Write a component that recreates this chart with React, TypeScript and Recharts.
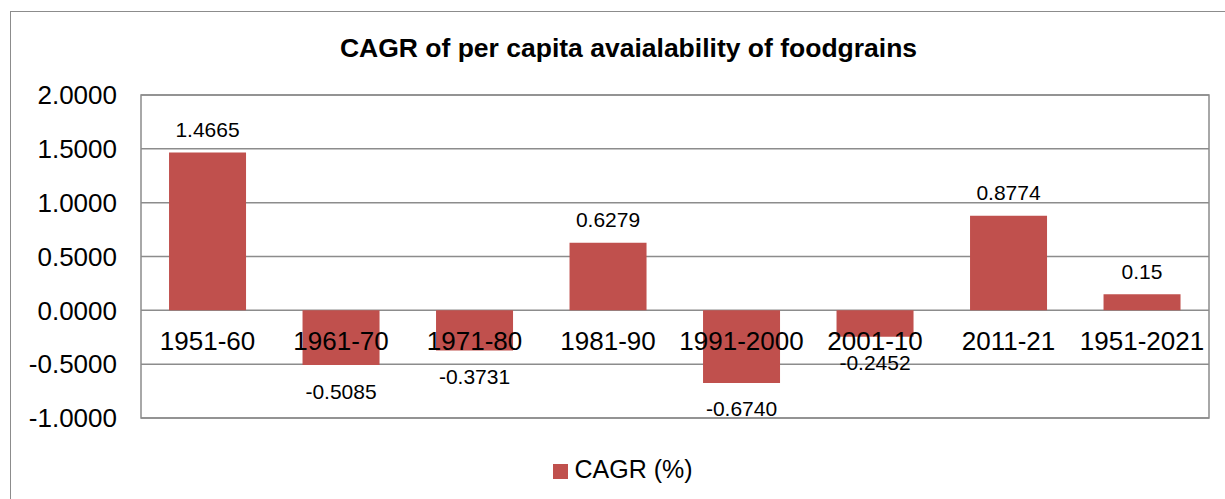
import React from 'react'
import {
  BarChart, Bar, XAxis, YAxis, CartesianGrid, ReferenceArea, LabelList, Legend
} from 'recharts'

// periods on the x axis
const periods = ['1951-60', '1961-70', '1971-80', '1981-90', '1991-2000', '2001-10', '2011-21', '1951-2021']
// CAGR (%) for each period
const cagr = [1.4665, -0.5085, -0.3731, 0.6279, -0.674, -0.2452, 0.8774, 0.15]
// labels exactly as printed on the bars
const valueText = ['1.4665', '-0.5085', '-0.3731', '0.6279', '-0.6740', '-0.2452', '0.8774', '0.15']
const yTicks = [-1, -0.5, 0, 0.5, 1, 1.5, 2]

const BAR = '#C0504D'
const GRID = '#8c8c8c'
const FONT = '"Liberation Sans", Arial, sans-serif'

const chartData = periods.map((p, i) => ({ name: p, value: cagr[i], label: valueText[i] }))

const ValueLabel = (props: any) => {
  const { x, y, width, height, index } = props
  const top = Math.min(y, y + height)
  const bottom = Math.max(y, y + height)
  const pos = cagr[index] >= 0
  return (
    <text
      x={x + width / 2}
      y={pos ? top - 23 : bottom + 26}
      textAnchor="middle"
      dominantBaseline="central"
      fontSize={21}
      fill="#000"
      fontFamily={FONT}
    >
      {valueText[index]}
    </text>
  )
}

// period names sit just under the zero line, not at the bottom of the plot
const CategoryLabel = (props: any) => {
  const { x, y, width, height, index } = props
  const top = Math.min(y, y + height)
  const bottom = Math.max(y, y + height)
  const zero = cagr[index] >= 0 ? bottom : top
  return (
    <text
      x={x + width / 2}
      y={zero + 31}
      textAnchor="middle"
      dominantBaseline="central"
      fontSize={26}
      fill="#000"
      fontFamily={FONT}
    >
      {periods[index]}
    </text>
  )
}

export default function App() {
  return (
    <div style={{ position: 'fixed', left: 0, top: 0, width: 1225, height: 499, overflow: 'hidden', background: '#fff', fontFamily: FONT }}>
      <div style={{ position: 'absolute', left: 10, top: 11, width: 1240, height: 520, border: '1px solid ' + GRID }} />
      <div style={{ position: 'absolute', left: 10, top: 33, width: 1237, textAlign: 'center', fontSize: 26.5, fontWeight: 'bold', color: '#000' }}>
        CAGR of per capita avaialability of foodgrains
      </div>
      <div style={{ position: 'absolute', left: 0, top: 0 }}>
        <BarChart
          width={1225}
          height={499}
          data={chartData}
          margin={{ top: 95, right: 16, bottom: 81, left: 0 }}
          barCategoryGap="21%"
        >
          <CartesianGrid vertical={false} stroke={GRID} strokeWidth={1.5} />
          <XAxis dataKey="name" hide />
          <YAxis
            type="number"
            domain={[-1, 2]}
            ticks={yTicks}
            tickFormatter={(v: number) => v.toFixed(4)}
            width={141}
            axisLine={false}
            tickLine={false}
            tickSize={6}
            tickMargin={18}
            tick={{ fontSize: 26, fill: '#000', fontFamily: FONT }}
          />
          <ReferenceArea y1={-1} y2={2} fill="none" stroke={GRID} strokeWidth={1.5} fillOpacity={0} />
          <Bar dataKey="value" name="CAGR (%)" fill={BAR} isAnimationActive={false}>
            <LabelList dataKey="label" content={<ValueLabel />} />
            <LabelList dataKey="name" content={<CategoryLabel />} />
          </Bar>
          <Legend
            verticalAlign="middle"
            align="center"
            iconType="square"
            iconSize={15}
            wrapperStyle={{ top: 455, left: 0, width: 1256, fontSize: 25 }}
            formatter={(v: string) => <span style={{ color: '#000', marginLeft: 2 }}>{v}</span>}
          />
        </BarChart>
      </div>
    </div>
  )
}
